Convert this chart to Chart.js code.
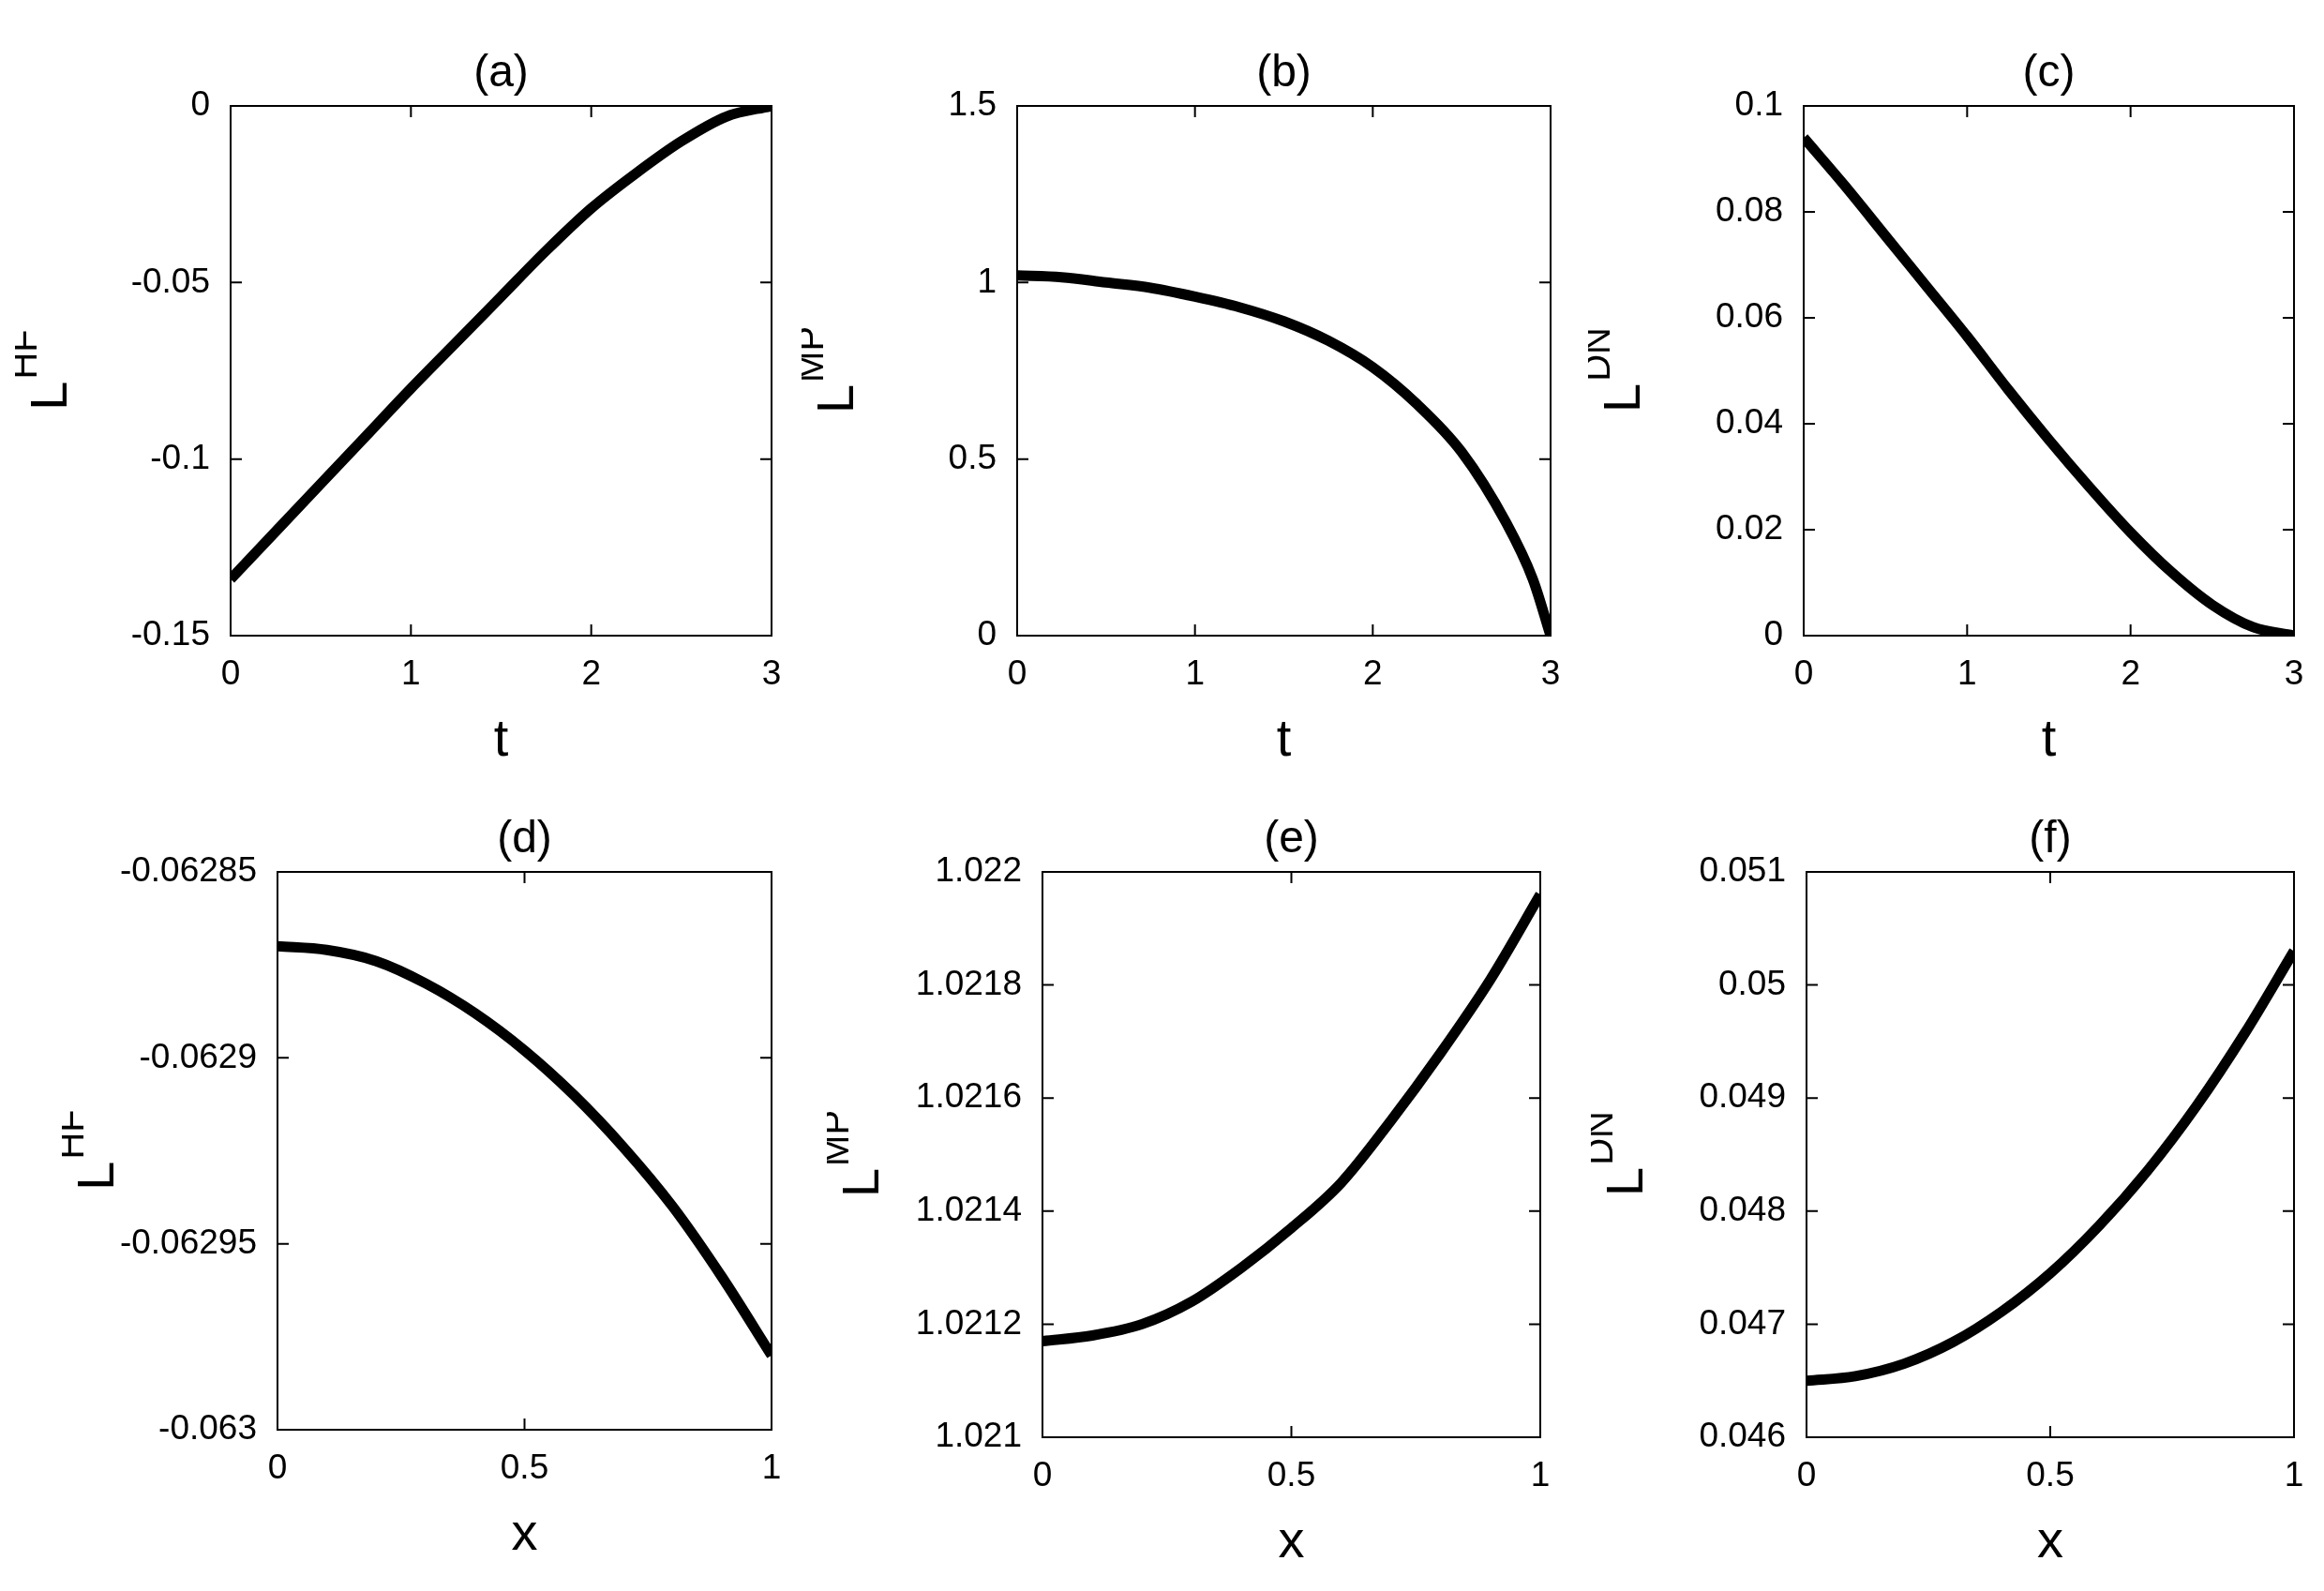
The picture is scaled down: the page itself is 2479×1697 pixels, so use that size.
<!DOCTYPE html>
<html><head><meta charset="utf-8">
<script src="https://cdn.jsdelivr.net/npm/chart.js@4/dist/chart.umd.min.js"></script>
<style>body{margin:0;background:#fff;width:2479px;height:1697px;position:relative;overflow:hidden}canvas{position:absolute}</style>
</head><body>
<script>
// data
var tTop=[0,0.25,0.5,0.75,1,1.25,1.5,1.75,2,2.25,2.5,2.75,3];
var lHF_t=[-0.134,-0.1205,-0.107,-0.0935,-0.080,-0.067,-0.054,-0.041,-0.029,-0.019,-0.010,-0.003,0];
var tMP=[0,0.25,0.5,0.75,1,1.25,1.5,1.75,2,2.25,2.5,2.75,2.9,3];
var lMP_t=[1.02,1.015,1.0,0.985,0.96,0.93,0.89,0.835,0.76,0.655,0.52,0.32,0.16,0];
var lDN_t=[0.094,0.085,0.0755,0.066,0.0565,0.0465,0.037,0.028,0.0195,0.012,0.0058,0.0016,0];
var xs=[0,0.1,0.2,0.3,0.4,0.5,0.6,0.7,0.8,0.9,1];
var lHF_x=[-0.062870,-0.062871,-0.062874,-0.062880,-0.062888,-0.062898,-0.062910,-0.062924,-0.062940,-0.062959,-0.062980];
var lMP_x=[1.02117,1.02118,1.02120,1.02124,1.02130,1.02137,1.02145,1.02156,1.02168,1.02181,1.02196];
var lDN_x=[0.0465,0.04654,0.04665,0.04684,0.04711,0.04745,0.04787,0.04836,0.04893,0.04958,0.0503];

var FONT='"Liberation Sans", Arial, sans-serif';
var YW=230, TOPP=70, XH=150, RP=40;

var panels=[
 {id:'(a)',sup:'HF',xl:'t',x:tTop,y:lHF_t,xmin:0,xmax:3,xs:1,ymin:-0.15,ymax:0,ys:0.05,L:246,R:823,T:113,B:678},
 {id:'(b)',sup:'MP',xl:'t',x:tMP,y:lMP_t,xmin:0,xmax:3,xs:1,ymin:0,ymax:1.5,ys:0.5,L:1085,R:1654,T:113,B:678},
 {id:'(c)',sup:'DN',xl:'t',x:tTop,y:lDN_t,xmin:0,xmax:3,xs:1,ymin:0,ymax:0.1,ys:0.02,L:1924,R:2447,T:113,B:678},
 {id:'(d)',sup:'HF',xl:'x',x:xs,y:lHF_x,xmin:0,xmax:1,xs:0.5,ymin:-0.063,ymax:-0.06285,ys:0.00005,L:296,R:823,T:930,B:1525},
 {id:'(e)',sup:'MP',xl:'x',x:xs,y:lMP_x,xmin:0,xmax:1,xs:0.5,ymin:1.021,ymax:1.022,ys:0.0002,L:1112,R:1643,T:930,B:1533},
 {id:'(f)',sup:'DN',xl:'x',x:xs,y:lDN_x,xmin:0,xmax:1,xs:0.5,ymin:0.046,ymax:0.051,ys:0.001,L:1927,R:2447,T:930,B:1533}
];

function fmt(v){return String(Number(v.toFixed(8)));}

var deco={id:'deco',afterDraw:function(c){
  var p=c.options.plugins.deco, a=c.chartArea, g=c.ctx;
  g.save();
  g.strokeStyle='#000';g.lineWidth=2;
  g.strokeRect(a.left,a.top,a.right-a.left,a.bottom-a.top);
  var tl=12;
  c.scales.x.ticks.forEach(function(t){var px=c.scales.x.getPixelForValue(t.value);
    g.beginPath();g.moveTo(px,a.bottom);g.lineTo(px,a.bottom-tl);g.moveTo(px,a.top);g.lineTo(px,a.top+tl);g.stroke();});
  c.scales.y.ticks.forEach(function(t){var py=c.scales.y.getPixelForValue(t.value);
    g.beginPath();g.moveTo(a.left,py);g.lineTo(a.left+tl,py);g.moveTo(a.right,py);g.lineTo(a.right-tl,py);g.stroke();});
  g.fillStyle='#000';
  g.font='48px '+FONT;g.textAlign='center';g.textBaseline='bottom';
  g.fillText(p.title,(a.left+a.right)/2,a.top-10);
  // y label L with superscript
  g.translate(p.ylx,(a.top+a.bottom)/2);g.rotate(-Math.PI/2);
  g.textBaseline='alphabetic';g.textAlign='left';
  g.font='56px '+FONT;var w1=g.measureText('L').width;
  g.font='40px '+FONT;var w2=g.measureText(p.sup).width;
  var s=-(w1+w2)/2;
  g.font='56px '+FONT;g.fillText('L',s,0);
  g.font='40px '+FONT;g.fillText(p.sup,s+w1+2,-32);
  g.restore();
}};

panels.forEach(function(p){
  var cv=document.createElement('canvas');
  var w=p.R-p.L+YW+RP, h=p.B-p.T+TOPP+XH;
  cv.width=w;cv.height=h;cv.style.left=(p.L-YW)+'px';cv.style.top=(p.T-TOPP)+'px';
  cv.style.width=w+'px';cv.style.height=h+'px';
  document.body.appendChild(cv);
  var pts=p.x.map(function(v,i){return {x:v,y:p.y[i]};});
  new Chart(cv,{type:'line',plugins:[deco],
    data:{datasets:[{data:pts,borderColor:'#000',borderWidth:11,pointRadius:0,cubicInterpolationMode:'monotone',borderCapStyle:'butt'}]},
    options:{responsive:false,animation:false,devicePixelRatio:1,
      layout:{padding:{top:TOPP,right:RP,left:0,bottom:0}},
      plugins:{legend:{display:false},tooltip:{enabled:false},
        deco:{title:p.id,sup:p.sup,ylx:55}},
      scales:{
        x:{type:'linear',min:p.xmin,max:p.xmax,border:{display:false},grid:{display:false},
          afterFit:function(s){s.height=XH;},
          afterBuildTicks:function(s){var t=[];for(var v=p.xmin;v<=p.xmax+1e-9;v+=p.xs)t.push({value:v});s.ticks=t;},
          ticks:{color:'#000',font:{size:37,family:FONT},padding:12,maxRotation:0,callback:fmt},
          title:{display:true,text:p.xl,color:'#000',font:{size:56,family:FONT},padding:{top:0}}},
        y:{min:p.ymin,max:p.ymax,border:{display:false},grid:{display:false},
          afterFit:function(s){s.width=YW;},
          afterBuildTicks:function(s){var t=[];var n=Math.round((p.ymax-p.ymin)/p.ys);for(var i=0;i<=n;i++)t.push({value:p.ymin+i*p.ys});s.ticks=t;},
          ticks:{color:'#000',font:{size:37,family:FONT},padding:14,callback:fmt}}
      }}});
});
</script>
</body></html>
